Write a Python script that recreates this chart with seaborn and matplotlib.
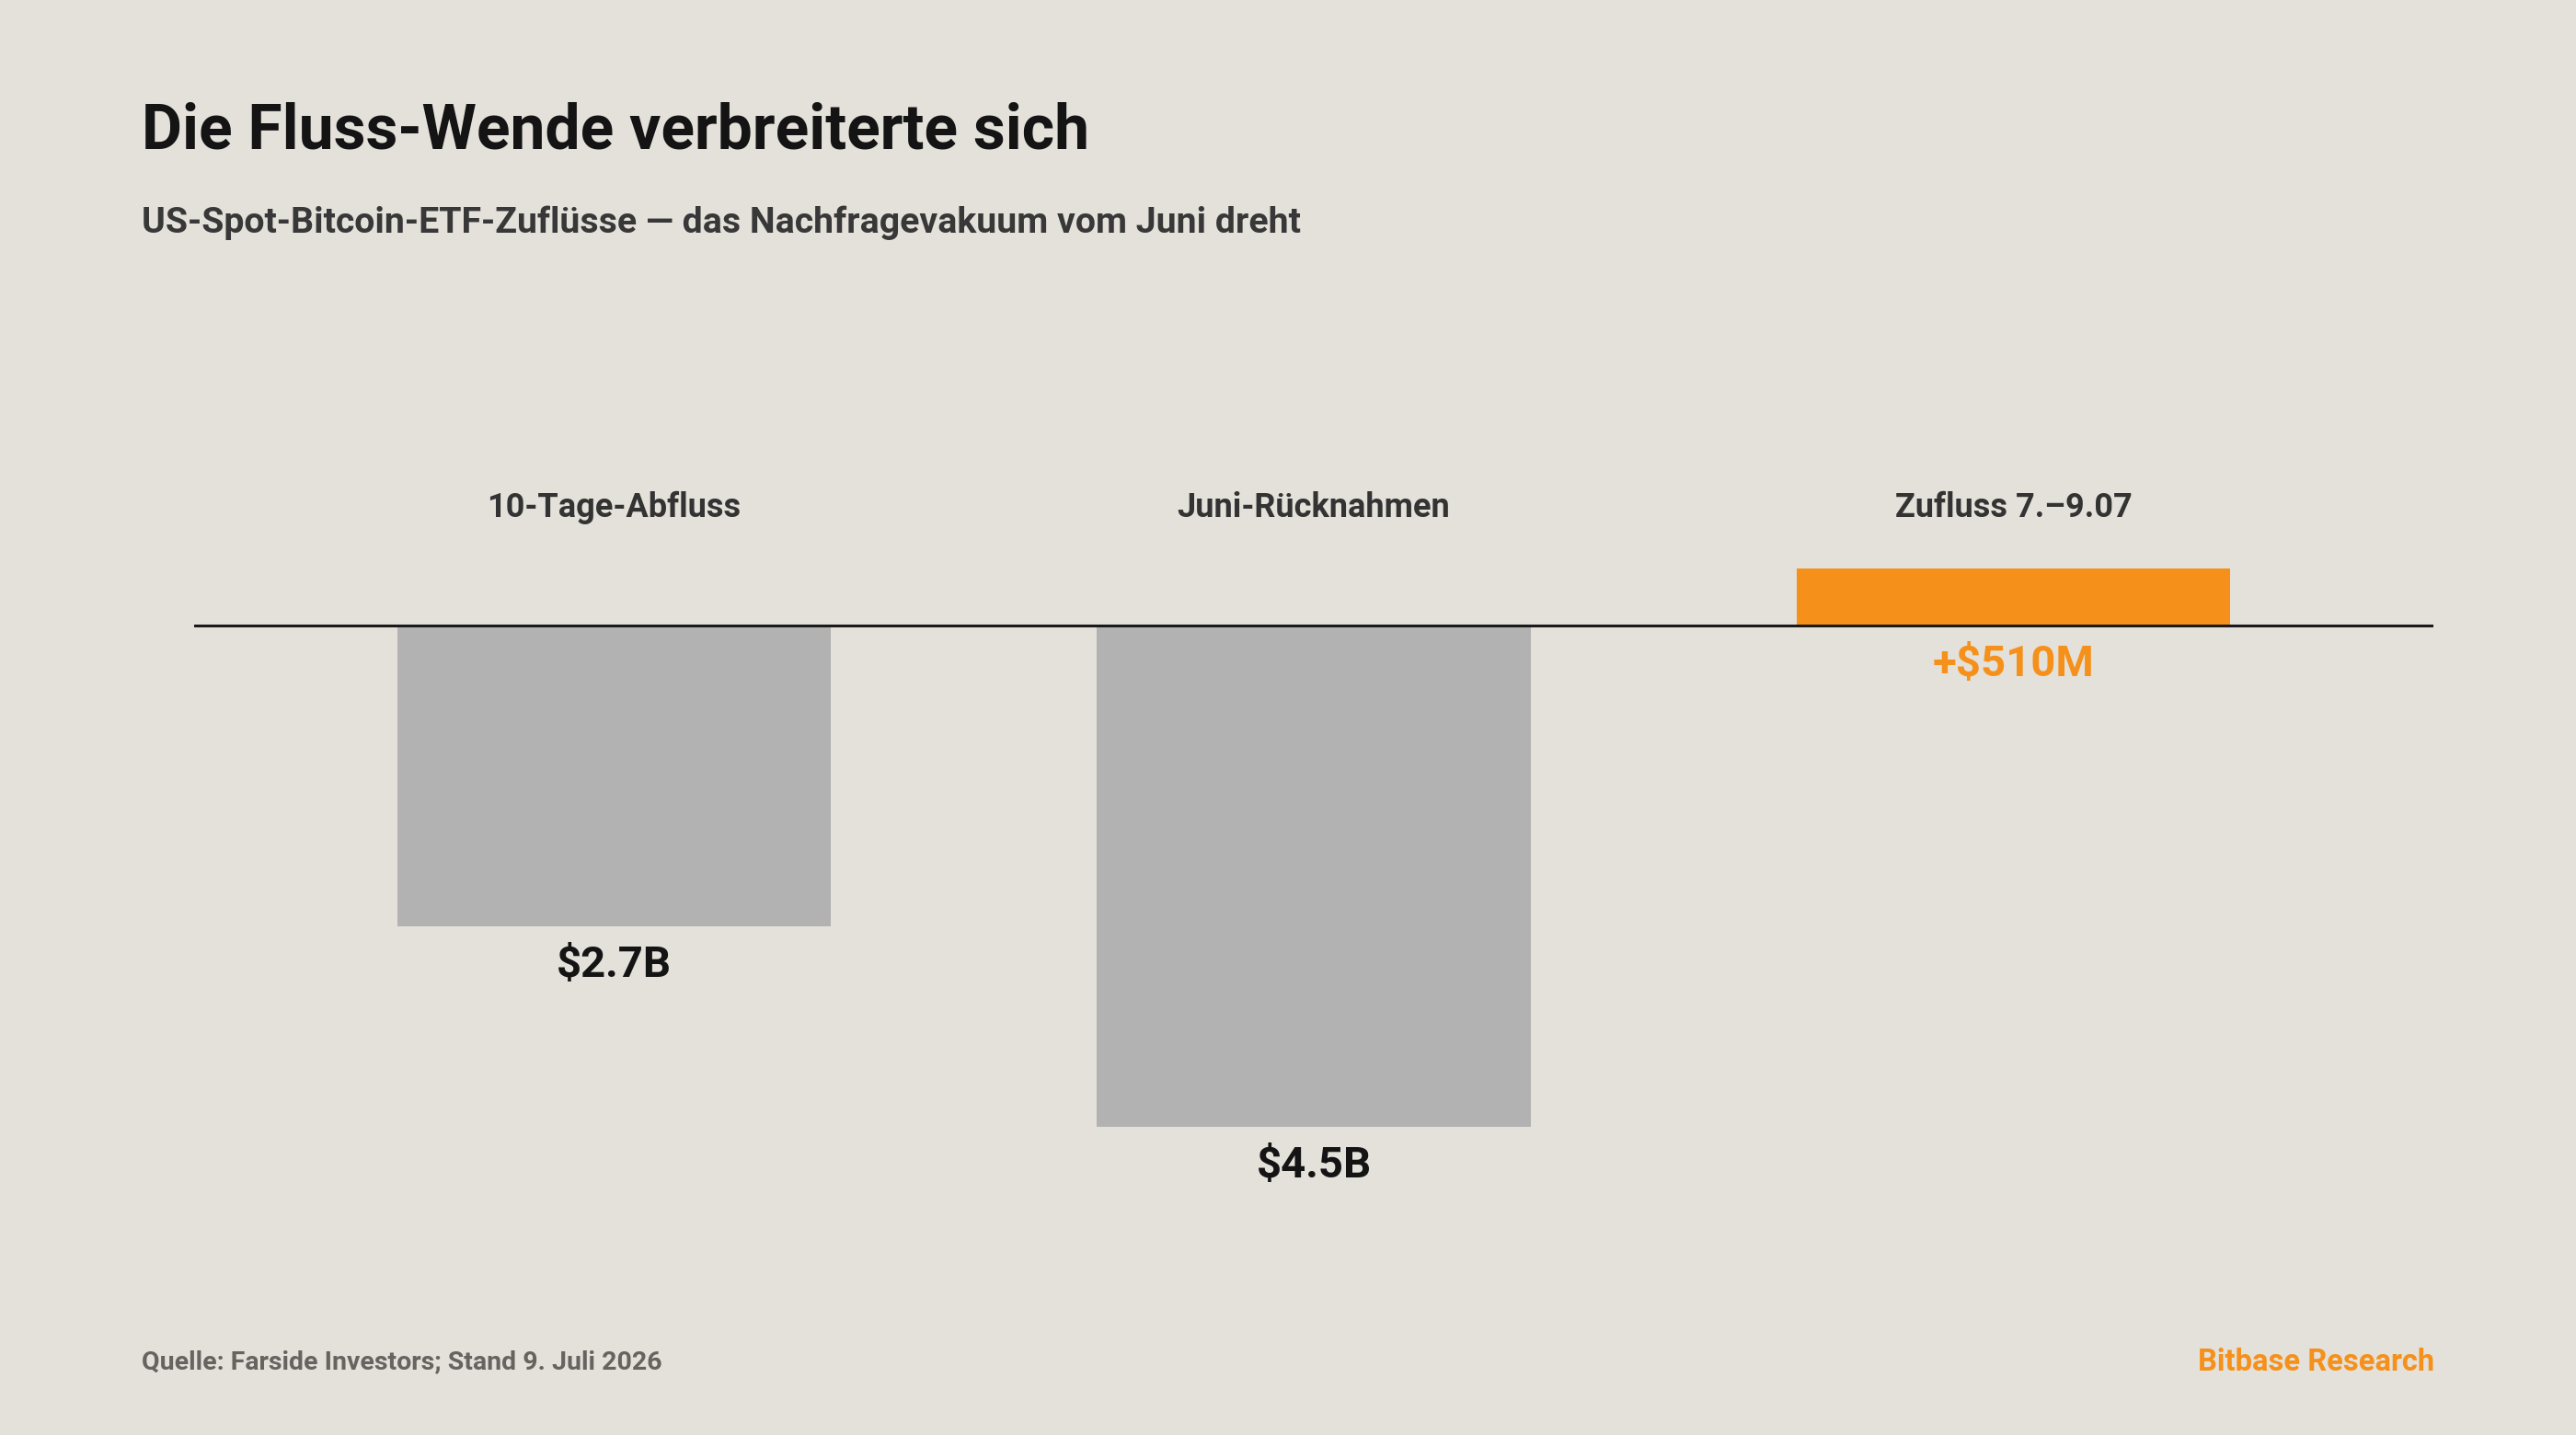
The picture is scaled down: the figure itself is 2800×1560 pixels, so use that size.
import matplotlib
matplotlib.use('Agg')
import matplotlib.pyplot as plt
import seaborn as sns
import pandas as pd

# chart data
categories = ['10-Tage-Abfluss', 'Juni-Rücknahmen', 'Zufluss 7.–9.07']
values = [-2.7, -4.5, 0.51]
value_labels = ['$2.7B', '$4.5B', '+$510M']
bar_colors = ['#B2B2B2', '#B2B2B2', '#F5911A']
label_colors = ['#141414', '#141414', '#F5911A']

title = 'Die Fluss-Wende verbreiterte sich'
subtitle = 'US-Spot-Bitcoin-ETF-Zuflüsse — das Nachfragevakuum vom Juni dreht'
source = 'Quelle: Farside Investors; Stand 9. Juli 2026'
brand = 'Bitbase Research'

BG = '#E4E0DA'
ORANGE = '#F5911A'


def main():
    sns.set_theme(style='white')
    plt.rcParams['font.family'] = ['Roboto', 'DejaVu Sans']

    df = pd.DataFrame({'cat': categories, 'val': values})

    W, H = 2800, 1560
    fig = plt.figure(figsize=(14, 7.8), dpi=200, facecolor=BG)

    # axes placed in pixel terms of the reference
    ax_left, ax_right = 211, 2645
    ax_top, ax_bottom = 560, 1300
    ax = fig.add_axes([ax_left / W, 1 - ax_bottom / H,
                       (ax_right - ax_left) / W, (ax_bottom - ax_top) / H])
    ax.set_facecolor(BG)

    sns.barplot(data=df, x='cat', y='val', hue='cat',
                palette=dict(zip(categories, bar_colors)),
                width=0.62, saturation=1, legend=False, ax=ax,
                edgecolor='none', linewidth=0)

    ax.set_xlim(-0.6, 2.6)
    ax.set_ylim(-5.12, 0.99)
    ax.axhline(0, color='#1a1a1a', lw=1.1, zorder=5)

    for sp in ax.spines.values():
        sp.set_visible(False)
    ax.set_xticks([])
    ax.set_yticks([])
    ax.set_xlabel('')
    ax.set_ylabel('')

    # category labels above the zero line
    for i, c in enumerate(categories):
        ax.text(i, 1.011, c, ha='center', va='center', fontsize=13,
                fontweight='bold', color='#333333',
                transform=ax.get_xaxis_transform(), clip_on=False)

    # value labels below bars
    for i, (v, lab, col) in enumerate(zip(values, value_labels, label_colors)):
        y = min(v, 0)
        ax.annotate(lab, xy=(i, y), xytext=(0, -15), textcoords='offset points',
                    ha='center', va='center', fontsize=17, fontweight='bold', color=col)

    # header and footer
    fig.text(154 / W, 1 - 143 / H, title, ha='left', va='center', fontsize=24.4,
             fontweight='bold', color='#141414')
    fig.text(154 / W, 1 - 242 / H, subtitle, ha='left', va='center', fontsize=14.15,
             fontweight='bold', color='#383838')
    fig.text(154 / W, 1 - 1481 / H, source, ha='left', va='center', fontsize=10.25,
             fontweight='bold', color='#666460')
    fig.text(2646 / W, 1 - 1481 / H, brand, ha='right', va='center', fontsize=11.8,
             fontweight='bold', color=ORANGE)

    fig.savefig('out.png', dpi=200, facecolor=BG)


if __name__ == '__main__':
    main()
